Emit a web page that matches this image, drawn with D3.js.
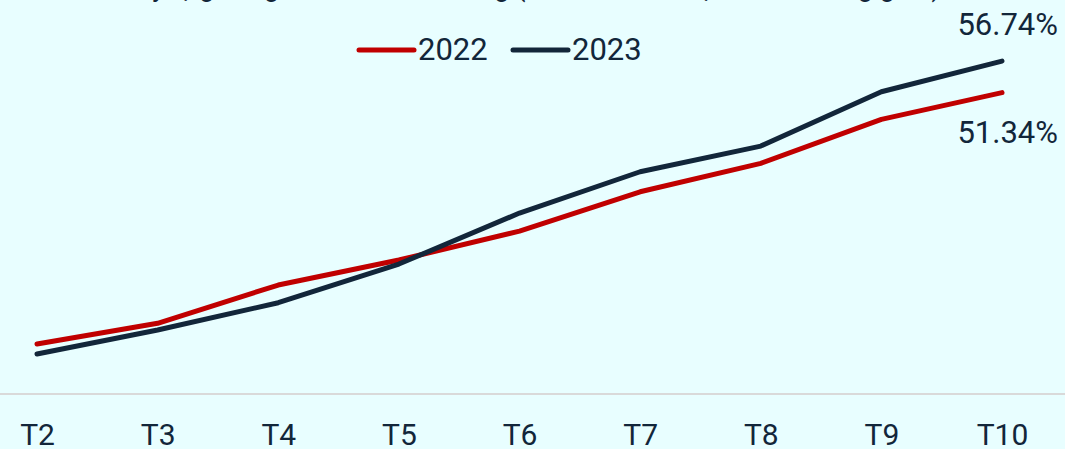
<!DOCTYPE html>
<html>
<head>
<meta charset="utf-8">
<script src="https://cdn.jsdelivr.net/npm/d3@7"></script>
<style>
  html, body { margin: 0; padding: 0; background: #e8feff; }
  svg { display: block; font-family: Roboto, "Noto Sans", sans-serif; }
</style>
</head>
<body>
<svg id="chart" width="1065" height="449"></svg>
<script>
// Monthly cumulative disbursement rate (% of plan)
const months = ["T2", "T3", "T4", "T5", "T6", "T7", "T8", "T9", "T10"];
const rate2022 = [8.37, 11.91, 18.46, 22.73, 27.68, 34.40, 39.25, 46.77, 51.34];
const rate2023 = [6.66, 10.77, 15.43, 22.04, 30.76, 37.82, 42.21, 51.49, 56.74];
const seriesNames = ["2022", "2023"];
const titleText = "Tỷ lệ giải ngân vốn đầu tư công (%, so với kế hoạch Thủ tướng giao)";

const W = 1065, H = 449;
const ink = "#12263a";
const colors = { "2022": "#c00000", "2023": "#12263a" };

const svg = d3.select("#chart");

const x = d3.scalePoint().domain(months).range([37, 1002]);
const y = d3.scaleLinear().domain([0, 60]).range([393, 42]);

// Title (runs off the top edge)
svg.append("text")
  .attr("x", 539).attr("y", -4.5)
  .attr("text-anchor", "middle")
  .attr("font-size", 27)
  .attr("fill", ink)
  .text(titleText);

// Baseline rule across the full width
svg.append("line")
  .attr("x1", 0).attr("x2", W)
  .attr("y1", y(0) + 1).attr("y2", y(0) + 1)
  .attr("stroke", "#d9d9d9").attr("stroke-width", 2);

// Category axis labels
const xAxis = svg.append("g")
  .attr("transform", `translate(0,${y(0) + 1})`)
  .call(d3.axisBottom(x).tickSize(0).tickPadding(0));
xAxis.select(".domain").remove();
xAxis.selectAll("text")
  .attr("y", 51).attr("dy", 0)
  .attr("font-size", 30)
  .attr("font-family", "Roboto, sans-serif")
  .attr("fill", ink);

// Lines
const line = d3.line()
  .x((d, i) => x(months[i]))
  .y(d => y(d));

const data = [
  { name: "2022", values: rate2022 },
  { name: "2023", values: rate2023 }
];

svg.selectAll("path.series")
  .data(data)
  .join("path")
  .attr("class", "series")
  .attr("d", d => line(d.values))
  .attr("fill", "none")
  .attr("stroke", d => colors[d.name])
  .attr("stroke-width", 5)
  .attr("stroke-linecap", "round")
  .attr("stroke-linejoin", "round");

// End-of-series value labels
const last = months.length - 1;
svg.append("text")
  .attr("x", 1058).attr("y", y(rate2023[last]) - 26)
  .attr("text-anchor", "end")
  .attr("font-size", 31)
  .attr("fill", ink)
  .text(rate2023[last].toFixed(2) + "%");
svg.append("text")
  .attr("x", 1058).attr("y", y(rate2022[last]) + 50)
  .attr("text-anchor", "end")
  .attr("font-size", 31)
  .attr("fill", ink)
  .text(rate2022[last].toFixed(2) + "%");

// Legend
const legend = svg.append("g").attr("transform", "translate(359,50)");
const lx = [0, 154];
seriesNames.forEach((name, i) => {
  const g = legend.append("g").attr("transform", `translate(${lx[i]},0)`);
  g.append("line")
    .attr("x1", 0).attr("x2", 55)
    .attr("y1", 0).attr("y2", 0)
    .attr("stroke", colors[name])
    .attr("stroke-width", 5)
    .attr("stroke-linecap", "round");
  g.append("text")
    .attr("x", 59).attr("y", 10)
    .attr("font-size", 31)
    .attr("fill", ink)
    .text(name);
});
</script>
</body>
</html>
